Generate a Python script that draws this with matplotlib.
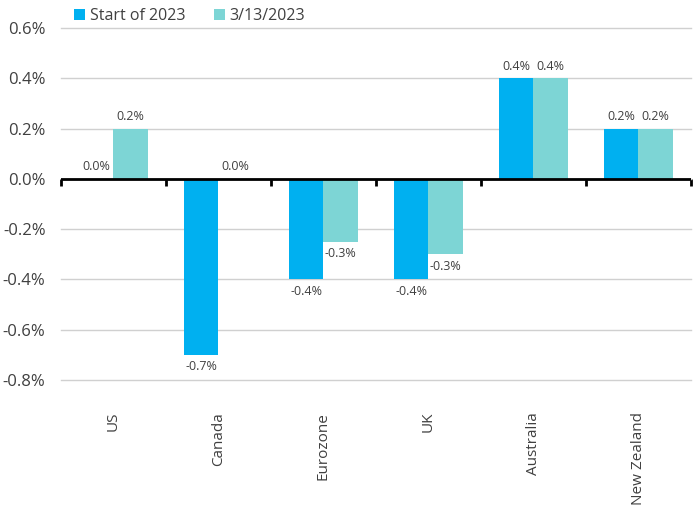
import matplotlib.pyplot as plt
import numpy as np

plt.rcParams['font.family'] = ['Open Sans', 'DejaVu Sans']

regions = ['US', 'Canada', 'Eurozone', 'UK', 'Australia', 'New Zealand']
start_2023 = [0.0, -0.7, -0.4, -0.4, 0.4, 0.2]
mar_2023 = [0.2, 0.0, -0.25, -0.3, 0.4, 0.2]
series_names = ['Start of 2023', '3/13/2023']

blue = '#00B0F0'
teal = '#7DD5D5'
grey = '#404040'


def pct(v):
    r = round(v - 1e-9, 1) if v < 0 else round(v, 1)
    if abs(r) < 1e-9:
        r = 0.0
    return f'{r:.1f}%'


fig = plt.figure(figsize=(7, 5.09), dpi=100)
ax = fig.add_axes([0.087, 0.2534, 0.9, 0.6916])

x = np.arange(len(regions))
w = 0.33
b1 = ax.bar(x - w / 2, start_2023, w, color=blue, label=series_names[0], zorder=3)
b2 = ax.bar(x + w / 2, mar_2023, w, color=teal, label=series_names[1], zorder=3)

for bars, vals in [(b1, start_2023), (b2, mar_2023)]:
    for rect, v in zip(bars, vals):
        cx = rect.get_x() + rect.get_width() / 2
        if v >= 0:
            ax.annotate(pct(v), (cx, v), xytext=(0, 4), textcoords='offset points',
                        ha='center', va='bottom', fontsize=9, color=grey)
        else:
            ax.annotate(pct(v), (cx, v), xytext=(0, -4), textcoords='offset points',
                        ha='center', va='top', fontsize=9, color=grey)

ax.set_xlim(-0.5, len(regions) - 0.5)
ax.set_ylim(-0.8, 0.6)
yt = np.arange(-0.8, 0.61, 0.2)
ax.set_yticks(yt)
ax.set_yticklabels([pct(t) for t in yt])
ax.tick_params(axis='y', length=0, labelsize=12, labelcolor=grey, pad=11)
ax.yaxis.grid(True, color='#d0d0d0', lw=1)
for gl in ax.get_ygridlines():
    gl.set_clip_on(False)
ax.set_axisbelow(True)
for s in ax.spines.values():
    s.set_visible(False)

ax.set_xticks(x)
ax.set_xticklabels(regions, rotation=90, fontsize=11, color=grey, va='top')
ax.tick_params(axis='x', length=0, pad=23)

ax.axhline(0, color='black', lw=2, zorder=4)
sec = ax.secondary_xaxis(0, transform=ax.transData)
sec.set_xticks(np.arange(-0.5, len(regions), 1))
sec.set_xticklabels([])
sec.tick_params(length=5, width=2, color='black', direction='out')
sec.spines['bottom'].set_visible(False)

ax.legend(loc='upper left', bbox_to_anchor=(0.01, 1.075), ncol=2, frameon=False,
          fontsize=11.5, handlelength=0.7, handleheight=0.7, handletextpad=0.3,
          columnspacing=1.8, labelcolor=grey, borderaxespad=0)

fig.savefig('out.png', dpi=100)
